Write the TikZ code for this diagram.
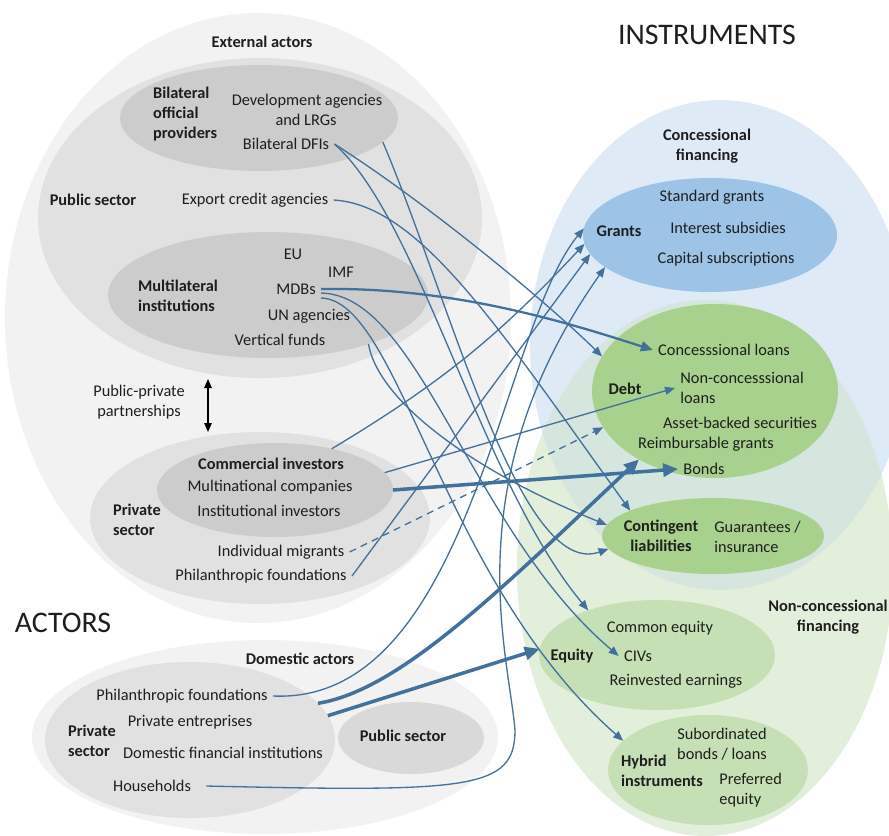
\documentclass[tikz,border=0pt]{standalone}
\usepackage{fontspec}
\setmainfont{Carlito}
\usetikzlibrary{shapes.geometric,arrows.meta}
\definecolor{outgray}{HTML}{F2F2F2}
\definecolor{midgray}{HTML}{E1E1E1}
\definecolor{deepgray}{HTML}{CCCCCC}
\definecolor{pubgray}{HTML}{D9D9D9}
\definecolor{conblue}{HTML}{DEEBF7}
\definecolor{nongreen}{HTML}{E2EFDA}
\definecolor{mixgreen}{HTML}{D4E6DD}
\definecolor{grantblue}{HTML}{9DC3E6}
\definecolor{debtgreen}{HTML}{A9D18E}
\definecolor{eqgreen}{HTML}{C5E0B4}
\definecolor{flow}{HTML}{41719C}
\definecolor{txt}{HTML}{1E1E1E}

\begin{document}
\begin{tikzpicture}[x=0.2mm,y=0.2mm,>={Triangle[length=2mm,width=1.6mm]},
every node/.style={font=\fontsize{9.3}{11.4}\selectfont,text=txt},
zone/.style 2 args={ellipse,draw=none,minimum width=#1*0.4mm,minimum height=#2*0.4mm,inner sep=0pt,outer sep=0pt},
item/.style={inner xsep=1mm,inner ysep=0.5mm},
head/.style={font=\fontsize{9.3}{11.4}\selectfont\bfseries,align=center,inner sep=1pt},
bigword/.style={font=\fontsize{17}{20}\selectfont},
link/.style={->,draw=flow,line width=0.75pt},
firm/.style={-{Triangle[length=2.4mm,width=2mm]},draw=flow,line width=1.3pt},
heavy/.style={-{Triangle[length=3mm,width=2.6mm]},draw=flow,line width=2pt}
]
\useasboundingbox (0,0) rectangle (889,-835);
\clip (0,0) rectangle (889,-835);

\node[zone={253}{305},fill=outgray] (ext) at (258,-318) {};
\node[zone={222}{160},fill=midgray] (pub) at (260,-218) {};
\node[zone={139}{53},fill=deepgray] (bil) at (259,-118) {};
\node[zone={160}{63},fill=deepgray] (multi) at (268,-295) {};
\node[zone={170}{86},fill=midgray] (priv) at (260,-518) {};
\node[zone={118}{47},fill=deepgray] (com) at (275,-490) {};
\node[zone={233}{97},fill=outgray] (dom) at (265,-737) {};
\node[zone={145}{78},fill=midgray] (dpriv) at (190,-740) {};
\node[zone={73}{36},fill=pubgray] (dpub) at (411,-738) {};

\node[zone={190}{245},fill=conblue] (conc) at (720,-345) {};
\node[zone={188}{268},fill=nongreen] (nonc) at (705,-568) {};
\begin{scope}
\clip (720,-345) ellipse [x radius=190,y radius=245];
\fill[mixgreen] (705,-568) ellipse [x radius=188,y radius=268];
\end{scope}
\node[zone={127}{57},fill=grantblue] (gr) at (710,-235) {};
\node[zone={123}{87},fill=debtgreen] (debt) at (715,-391) {};
\node[zone={111}{38},fill=debtgreen] (cont) at (713,-536) {};
\node[zone={118}{55},fill=eqgreen] (eq) at (657,-655) {};
\node[zone={100}{55},fill=eqgreen] (hyb) at (708,-770) {};

\node[head] (extlbl) at (262,-42) {External actors};
\node[head,align=left,anchor=west] (billbl) at (151,-114) {Bilateral\\official\\providers};
\node[item] (devag) at (307,-101) {Development agencies};
\node[item] (lrg) at (306,-120) {and LRGs};
\node[item] (bdfi) at (286,-144) {Bilateral DFIs};
\node[head] (pubsec) at (93,-200) {Public sector};
\node[item] (eca) at (255,-200) {Export credit agencies};
\node[item] (eu) at (293,-254) {EU};
\node[item] (imf) at (341,-272) {IMF};
\node[item] (mdb) at (296,-289) {MDBs};
\node[item] (un) at (309,-316) {UN agencies};
\node[item] (vf) at (280,-340) {Vertical funds};
\node[head,align=left,anchor=west] (multlbl) at (136,-296) {Multilateral\\institutions};
\node[item,align=center] (ppp) at (139,-402) {Public-private\\partnerships};
\coordinate (pppTop) at (208,-379);
\coordinate (pppBot) at (208,-432);
\node[head] (comlbl) at (271,-464) {Commercial investors};
\node[item] (mnc) at (270,-487) {Multinational companies};
\node[item] (inst) at (269,-511) {Institutional investors};
\node[head,align=left,anchor=west] (privlbl) at (111,-520) {Private\\sector};
\node[item] (mig) at (281,-552) {Individual migrants};
\node[item] (phil) at (261,-576) {Philanthropic foundations};
\node[bigword] (actors) at (63,-623) {ACTORS};
\node[head] (domlbl) at (300,-659) {Domestic actors};
\node[item] (dphil) at (182,-696) {Philanthropic foundations};
\node[item] (pent) at (190,-722) {Private entreprises};
\node[item] (dfin) at (223,-753) {Domestic financial institutions};
\node[item] (hh) at (152,-786) {Households};
\node[head,align=left,anchor=west] (dprivlbl) at (66,-741) {Private\\sector};
\node[head] (dpublbl) at (403,-736) {Public sector};

\node[bigword] (instr) at (707,-35) {INSTRUMENTS};
\node[head] (conclbl) at (707,-146) {Concessional\\financing};
\node[head] (grlbl) at (619,-231) {Grants};
\node[item] (sg) at (712,-197) {Standard grants};
\node[item] (is) at (728,-228) {Interest subsidies};
\node[item] (cs) at (726,-259) {Capital subscriptions};
\node[head] (debtlbl) at (625,-389) {Debt};
\node[item] (cl) at (724,-350) {Concesssional loans};
\node[item,align=left,anchor=west] (ncl) at (675,-388) {Non-concesssional\\loans};
\node[item] (abs) at (740,-423) {Asset-backed securities};
\node[item] (rg) at (706,-444) {Reimbursable grants};
\node[item] (bonds) at (704,-469) {Bonds};
\node[head] (contlbl) at (661,-536) {Contingent\\liabilities};
\node[item,align=left,anchor=west] (guar) at (709,-537) {Guarantees /\\insurance};
\node[head] (nonclbl) at (828,-617) {Non-concessional\\financing};
\node[head] (eqlbl) at (572,-656) {Equity};
\node[item] (ce) at (660,-628) {Common equity};
\node[item] (civ) at (638,-656) {CIVs};
\node[item] (re) at (676,-681) {Reinvested earnings};
\node[head,align=left,anchor=west] (hyblbl) at (619,-771) {Hybrid\\instruments};
\node[item,align=center] (sub) at (722,-744) {Subordinated\\bonds / loans};
\node[item,align=left,anchor=west] (pref) at (714,-790) {Preferred\\equity};

\draw[<->,black,line width=0.7pt,>={Triangle[length=1.8mm,width=1.5mm]}] (pppTop) -- (pppBot);

\draw[link] (bil.-11) .. controls (450,-300) and (520,-580) .. (cont.187);
\draw[link] (bdfi.east) .. controls (430,-205) and (550,-305) .. (debt.163);
\draw[link] (bdfi.east) .. controls (420,-220) and (480,-480) .. (eq.147);
\draw[link] (eca.east) .. controls (420,-205) and (500,-330) .. (cont.163);
\draw[firm] (mdb.east) .. controls (450,-287) and (560,-320) .. (cl.west);
\draw[link] ([yshift=-0.8mm]mdb.east) .. controls (420,-295) and (470,-530) .. (civ.west);
\draw[link] ([yshift=-1.8mm]mdb.east) .. controls (400,-300) and (440,-580) .. (hyb.161);
\draw[link] (multi.-26) .. controls (378,-400) and (470,-470) .. (cont.174);
\draw[link] (com.36) to[bend right=8] (gr.184);
\draw[link] (com.9) -- (ncl.west);
\draw[heavy] (com.east) -- (bonds.west);
\draw[link,dashed,dash pattern=on 4pt off 3pt] (mig.east) -- (debt.198);
\draw[link] (phil.east) -- (gr.189);
\draw[link] (dphil.east) .. controls (470,-705) and (500,-330) .. (gr.177);
\draw[heavy] (dpriv.16) .. controls (400,-690) and (500,-590) .. (debt.222);
\draw[heavy] (dpriv.10) -- (eq.177);
\coordinate (hhbend) at (515,-730);
\draw[link] ([xshift=2mm]hh.east) .. controls (470,-792) and (515,-790) .. (hhbend) .. controls (508,-650) and (455,-480) .. (gr.197);
\end{tikzpicture}
\end{document}
